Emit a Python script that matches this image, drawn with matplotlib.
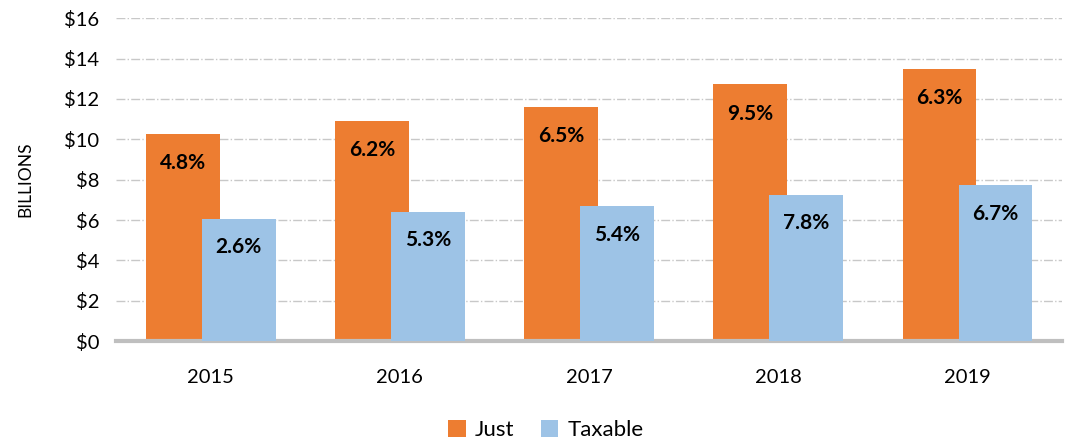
import matplotlib.pyplot as plt
import numpy as np

years = ['2015', '2016', '2017', '2018', '2019']
just = [10.25, 10.9, 11.62, 12.72, 13.5]
taxable = [6.04, 6.39, 6.68, 7.23, 7.72]
just_pct = ['4.8%', '6.2%', '6.5%', '9.5%', '6.3%']
taxable_pct = ['2.6%', '5.3%', '5.4%', '7.8%', '6.7%']

plt.rcParams['font.family'] = ['Lato', 'DejaVu Sans']

fig = plt.figure(figsize=(10.74, 4.43), dpi=100)
ax = fig.add_axes([0.108, 0.23, 0.881, 0.729])

x = np.arange(len(years))
w = 0.39
b1 = ax.bar(x - 0.148, just, w, color='#ED7D31', label='Just', zorder=2)
b2 = ax.bar(x + 0.148, taxable, w, color='#9DC3E6', label='Taxable', zorder=3)

for rect, t in zip(b1, just_pct):
    ax.text(rect.get_x() + rect.get_width() / 2, rect.get_height() - 1.45, t,
            ha='center', va='center', fontsize=15, fontweight='bold', zorder=4)
for rect, t in zip(b2, taxable_pct):
    ax.text(rect.get_x() + rect.get_width() / 2, rect.get_height() - 1.4, t,
            ha='center', va='center', fontsize=15, fontweight='bold', zorder=4)

ax.set_xlim(-0.5, len(years) - 0.5)
ax.set_ylim(0, 16)
ax.set_yticks(range(0, 17, 2))
ax.set_yticklabels(['$%d' % v for v in range(0, 17, 2)])
ax.set_xticks(x)
ax.set_xticklabels(years)
ax.tick_params(axis='both', length=0, labelsize=14.5)
ax.tick_params(axis='x', pad=20)
ax.tick_params(axis='y', pad=12)

ax.yaxis.grid(True, color='#C8C8C8', linestyle='-.', linewidth=1, zorder=0)
for s in ['top', 'right', 'left']:
    ax.spines[s].set_visible(False)
ax.spines['bottom'].set_color('#BFBFBF')
ax.spines['bottom'].set_linewidth(3)

ax.set_ylabel('BILLIONS', fontsize=12.5, labelpad=22)

fig.legend(loc='lower center', ncol=2, frameon=False, fontsize=16,
           bbox_to_anchor=(0.508, -0.038), handlelength=0.8, handleheight=0.8,
           columnspacing=1.2, handletextpad=0.4)

plt.savefig('out.png')
